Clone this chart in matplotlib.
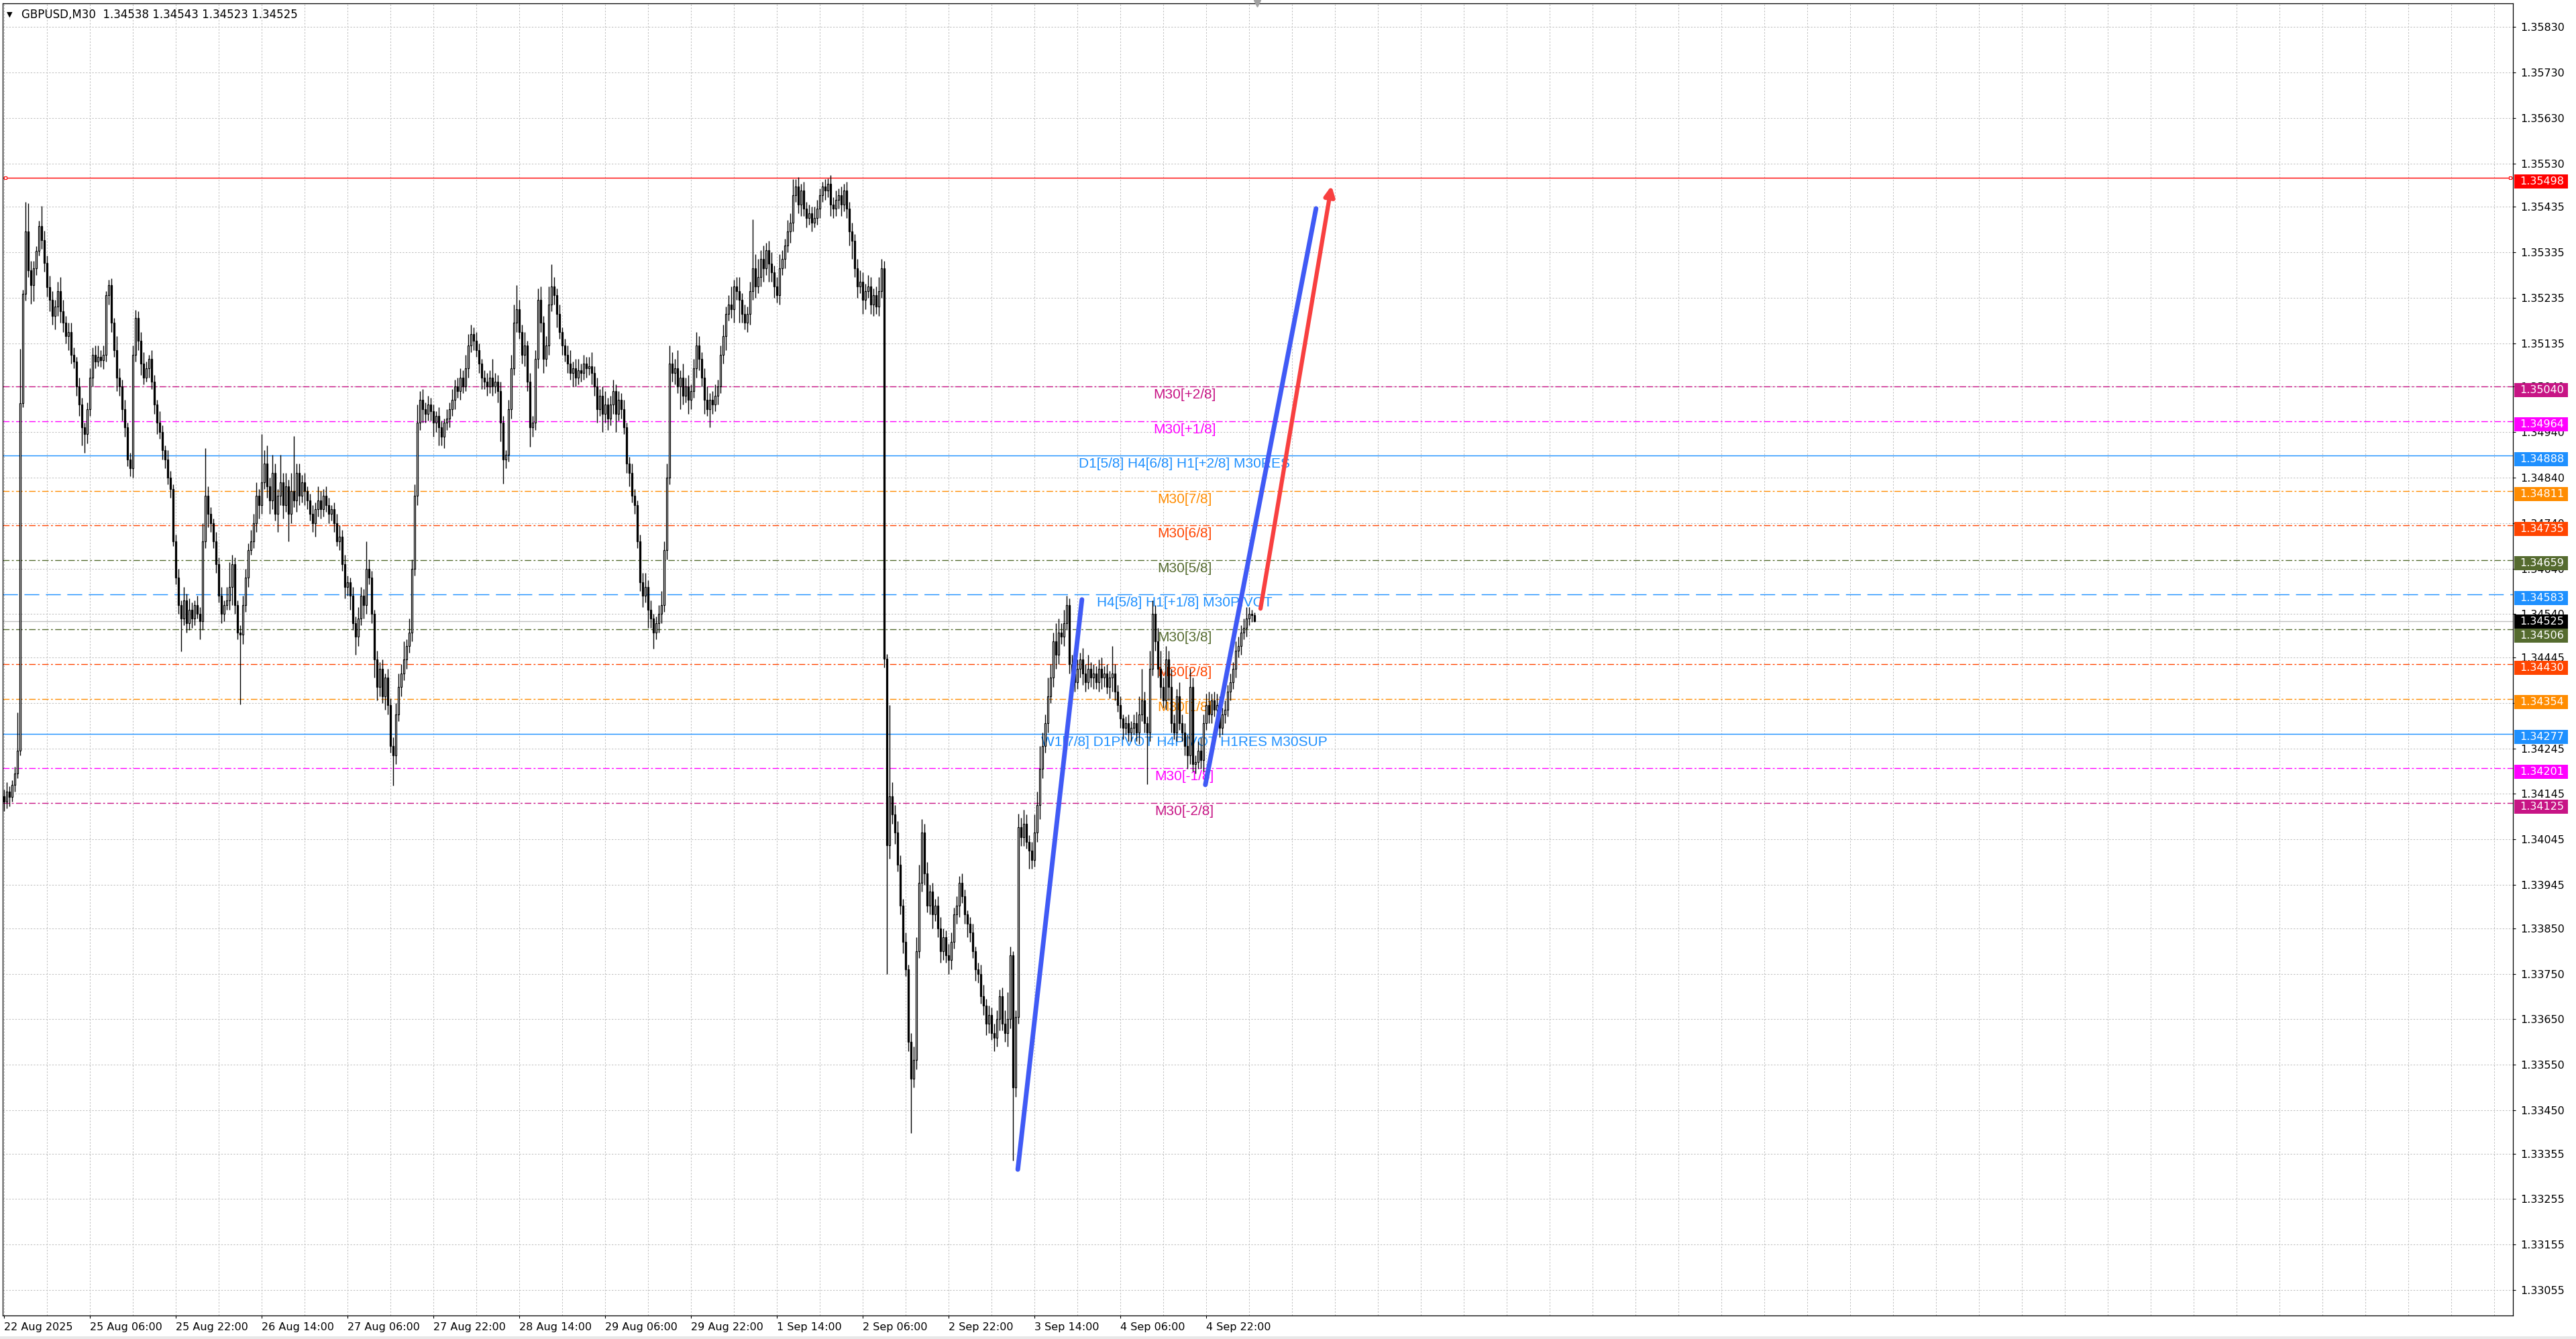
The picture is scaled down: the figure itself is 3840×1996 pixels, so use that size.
import numpy as np
import matplotlib
matplotlib.use("Agg")
import matplotlib.pyplot as plt
from matplotlib.patches import Rectangle
from matplotlib.transforms import blended_transform_factory

# GBPUSD M30 candles, prices in 1e-5 units above 1.30000 (open = previous close)
first_open = 4140
close_u = [
    4128, 4150, 4138, 4165, 4190,  4240, 5004, 5244, 5380, 5295,
    5262, 5300, 5338, 5392, 5362,  5312, 5258, 5230, 5195, 5215,
    5250, 5205, 5180, 5150, 5160,  5110, 5095, 5040, 5000, 4950,
    4935, 4990, 5060, 5110, 5095,  5105, 5098, 5110, 5240, 5262,
    5180, 5120, 5060, 5040, 4990,  4950, 4880, 4860, 5110, 5190,
    5140, 5090, 5060, 5080, 5100,  5050, 5000, 4960, 4940, 4900,
    4880, 4840, 4815, 4700, 4620,  4560, 4530, 4570, 4520, 4550,
    4530, 4560, 4540, 4525, 4700,  4800, 4760, 4740, 4700, 4650,
    4580, 4540, 4560, 4570, 4600,  4650, 4560, 4500, 4495, 4560,
    4620, 4680, 4700, 4740, 4800,  4780, 4830, 4870, 4820, 4790,
    4850, 4760, 4800, 4830, 4780,  4820, 4760, 4810, 4790, 4850,
    4800, 4830, 4810, 4790, 4760,  4740, 4770, 4790, 4770, 4800,
    4780, 4760, 4770, 4740, 4700,  4710, 4650, 4600, 4610, 4580,
    4520, 4490, 4530, 4580, 4560,  4640, 4620, 4540, 4440, 4380,
    4420, 4360, 4400, 4340, 4250,  4230, 4320, 4380, 4410, 4440,
    4470, 4500, 4640, 4800, 4960,  5010, 4990, 4980, 5000, 4985,
    4960, 4975, 4950, 4930, 4960,  4970, 4990, 5010, 5040, 5030,
    5060, 5040, 5080, 5130, 5155,  5140, 5120, 5090, 5060, 5050,
    5040, 5060, 5040, 5050, 5030,  4960, 4880, 4890, 4990, 5080,
    5180, 5210, 5160, 5110, 5130,  5050, 4950, 4960, 5100, 5230,
    5180, 5100, 5130, 5220, 5260,  5240, 5200, 5160, 5130, 5110,
    5090, 5070, 5080, 5060, 5075,  5070, 5090, 5080, 5085, 5070,
    5040, 4990, 5020, 4980, 5000,  4970, 5000, 5030, 4980, 5010,
    4990, 4950, 4870, 4850, 4800,  4780, 4700, 4610, 4580, 4600,
    4550, 4530, 4500, 4520, 4540,  4560, 4680, 4840, 5090, 5070,
    5080, 5040, 5060, 5020, 5040,  5010, 5030, 5080, 5130, 5100,
    5060, 5010, 4990, 5010, 5000,  5020, 5040, 5110, 5150, 5200,
    5220, 5210, 5260, 5250, 5230,  5200, 5180, 5200, 5250, 5300,
    5260, 5280, 5320, 5300, 5340,  5310, 5290, 5260, 5240, 5300,
    5320, 5350, 5380, 5400, 5460,  5480, 5440, 5470, 5430, 5410,
    5420, 5400, 5410, 5430, 5460,  5480, 5470, 5485, 5440, 5430,
    5450, 5460, 5440, 5470, 5430,  5380, 5360, 5300, 5260, 5270,
    5230, 5250, 5260, 5220, 5240,  5215, 5250, 5300, 4442, 4032,
    4140, 4100, 4060, 3990, 3900,  3820, 3760, 3600, 3520, 3560,
    3800, 3950, 4060, 3970, 3900,  3930, 3880, 3900, 3850, 3800,
    3830, 3790, 3780, 3820, 3880,  3900, 3950, 3920, 3880, 3860,
    3840, 3800, 3760, 3750, 3700,  3680, 3640, 3660, 3620, 3610,
    3650, 3700, 3640, 3620, 3650,  3790, 3500, 3655, 4072, 4050,
    4080, 4040, 4020, 4000, 4060,  4120, 4200, 4250, 4300, 4360,
    4400, 4480, 4450, 4500, 4490,  4520, 4560, 4430, 4410, 4390,
    4420, 4440, 4410, 4390, 4420,  4400, 4410, 4390, 4420, 4400,
    4410, 4380, 4400, 4410, 4370,  4340, 4310, 4290, 4300, 4280,
    4290, 4300, 4280, 4320, 4350,  4300, 4280, 4420, 4540, 4480,
    4420, 4380, 4350, 4440, 4380,  4300, 4280, 4360, 4300, 4280,
    4250, 4230, 4380, 4210, 4215,  4240, 4220, 4300, 4340, 4320,
    4350, 4330, 4340, 4290, 4320,  4330, 4370, 4390, 4420, 4460,
    4470, 4500, 4510, 4530, 4540,  4538, 4525,
]
wick_up = [
    15, 20, 12, 10, 15, 84, 119, 9, 65, 62,
    20, 15, 10, 12, 44, 20, 15, 25, 20, 15,
    20, 30, 25, 15, 20, 20, 15, 10, 20, 15,
    10, 15, 20, 15, 20, 25, 15, 20, 10, 12,
    15, 10, 30, 20, 15, 20, 10, 15, 20, 18,
    15, 20, 25, 15, 10, 20, 15, 10, 25, 15,
    10, 20, 15, 10, 15, 20, 10, 30, 15, 25,
    15, 10, 20, 15, 40, 104, 20, 15, 10, 20,
    15, 20, 10, 30, 54, 20, 15, 10, 15, 20,
    20, 15, 25, 20, 30, 15, 105, 30, 40, 20,
    40, 20, 15, 60, 20, 30, 15, 40, 121, 20,
    20, 15, 20, 10, 15, 20, 15, 30, 20, 15,
    20, 15, 10, 15, 20, 25, 15, 20, 15, 10,
    20, 15, 25, 20, 15, 60, 20, 15, 10, 20,
    15, 20, 10, 20, 15, 20, 25, 30, 20, 40,
    15, 30, 20, 25, 40, 20, 25, 15, 20, 15,
    15, 10, 20, 15, 10, 20, 15, 25, 15, 20,
    20, 15, 30, 25, 20, 15, 20, 15, 10, 15,
    20, 15, 40, 20, 15, 20, 15, 10, 20, 30,
    40, 53, 20, 15, 30, 10, 20, 15, 20, 25,
    30, 15, 20, 40, 49, 20, 15, 20, 10, 15,
    20, 30, 15, 20, 25, 15, 20, 15, 20, 30,
    15, 20, 15, 20, 30, 15, 20, 25, 15, 20,
    15, 20, 10, 15, 20, 15, 10, 15, 20, 30,
    15, 20, 10, 15, 20, 30, 20, 30, 40, 25,
    20, 40, 15, 30, 20, 25, 15, 20, 30, 20,
    15, 20, 30, 15, 20, 25, 15, 20, 25, 15,
    20, 40, 15, 20, 30, 15, 20, 15, 20, 107,
    30, 40, 20, 30, 15, 20, 25, 15, 20, 30,
    20, 15, 25, 20, 35, 15, 20, 15, 20, 15,
    20, 15, 25, 20, 15, 10, 15, 12, 20, 15,
    20, 15, 20, 15, 20, 15, 20, 15, 20, 25,
    20, 15, 25, 20, 15, 20, 30, 20, 15, 10,
    200, 30, 20, 25, 20, 15, 20, 10, 20, 30,
    30, 40, 30, 20, 25, 15, 20, 15, 20, 25,
    20, 15, 25, 20, 15, 20, 15, 20, 15, 10,
    15, 20, 10, 15, 20, 25, 15, 20, 15, 20,
    20, 15, 20, 30, 60, 20, 10, 15, 30, 20,
    30, 20, 15, 20, 40, 30, 50, 30, 20, 40,
    30, 20, 40, 30, 20, 30, 20, 15, 20, 25,
    20, 15, 25, 20, 30, 15, 20, 15, 20, 25,
    15, 20, 15, 60, 20, 15, 20, 10, 15, 20,
    15, 20, 25, 40, 70, 20, 15, 40, 30, 20,
    30, 40, 20, 30, 20, 40, 20, 15, 30, 20,
    20, 25, 40, 20, 15, 20, 30, 20, 25, 30,
    15, 20, 25, 20, 15, 20, 15, 20, 15, 20,
    20, 15, 20, 25, 15, 10, 5,
]
wick_dn = [
    20, 15, 20, 10, 15, 10, 10, 9, 15, 15,
    40, 35, 15, 10, 20, 20, 20, 25, 20, 30,
    20, 25, 20, 15, 30, 20, 15, 20, 25, 40,
    40, 20, 15, 20, 15, 10, 15, 20, 15, 20,
    20, 15, 30, 20, 25, 20, 15, 18, 20, 15,
    20, 25, 15, 10, 20, 15, 20, 25, 15, 20,
    20, 15, 20, 10, 15, 20, 72, 15, 20, 15,
    20, 15, 10, 40, 20, 15, 30, 20, 15, 20,
    15, 20, 15, 10, 20, 40, 20, 15, 153, 20,
    15, 20, 10, 15, 20, 30, 20, 15, 25, 30,
    20, 15, 40, 20, 30, 15, 60, 20, 15, 25,
    20, 15, 30, 20, 15, 20, 30, 15, 20, 15,
    15, 20, 15, 20, 10, 20, 15, 25, 20, 30,
    15, 40, 20, 15, 30, 20, 15, 20, 40, 30,
    20, 15, 30, 20, 15, 67, 20, 15, 20, 15,
    20, 15, 20, 15, 20, 15, 30, 20, 15, 20,
    30, 20, 40, 20, 25, 15, 20, 15, 20, 15,
    20, 15, 10, 20, 15, 20, 15, 20, 25, 15,
    20, 15, 20, 15, 25, 40, 53, 20, 15, 20,
    15, 20, 15, 20, 25, 20, 43, 20, 15, 20,
    20, 30, 15, 20, 15, 20, 30, 15, 20, 15,
    20, 15, 30, 20, 15, 20, 15, 20, 15, 25,
    20, 30, 15, 40, 20, 25, 15, 20, 40, 15,
    20, 15, 20, 30, 15, 20, 15, 20, 25, 15,
    40, 20, 36, 15, 20, 20, 15, 20, 15, 20,
    25, 15, 50, 20, 15, 30, 20, 15, 20, 25,
    20, 30, 15, 40, 20, 15, 20, 15, 20, 30,
    15, 20, 30, 20, 50, 20, 15, 20, 25, 20,
    25, 15, 20, 30, 15, 40, 20, 25, 15, 20,
    15, 20, 15, 25, 20, 15, 20, 25, 15, 20,
    15, 20, 10, 15, 20, 15, 20, 15, 25, 20,
    15, 20, 25, 15, 20, 30, 40, 20, 25, 15,
    30, 20, 15, 20, 25, 15, 20, 15, 20, 282,
    30, 20, 25, 15, 20, 25, 15, 20, 120, 20,
    20, 15, 20, 25, 15, 20, 30, 15, 20, 25,
    20, 15, 30, 20, 15, 20, 25, 15, 20, 30,
    20, 15, 25, 20, 15, 20, 25, 20, 15, 30,
    20, 25, 15, 20, 30, 20, 161, 20, 15, 20,
    20, 15, 40, 20, 15, 20, 30, 20, 15, 20,
    15, 20, 30, 20, 15, 20, 15, 20, 25, 20,
    15, 20, 25, 20, 15, 20, 25, 15, 20, 25,
    20, 15, 25, 30, 20, 15, 20, 25, 15, 20,
    20, 15, 20, 25, 15, 20, 114, 20, 15, 20,
    20, 25, 15, 20, 30, 20, 15, 20, 15, 20,
    20, 30, 20, 15, 20, 15, 20, 25, 15, 20,
    20, 15, 25, 20, 15, 20, 15, 20, 15, 20,
    15, 20, 15, 20, 15, 15, 2,
]

# time axis labels (every 32 bars)
x_label_bars = [0, 32, 64, 96, 128, 160, 192, 224, 256, 288, 320, 352, 384, 416, 448]
x_labels = ["22 Aug 2025", "25 Aug 06:00", "25 Aug 22:00", "26 Aug 14:00", "27 Aug 06:00",
            "27 Aug 22:00", "28 Aug 14:00", "29 Aug 06:00", "29 Aug 22:00", "1 Sep 14:00",
            "2 Sep 06:00", "2 Sep 22:00", "3 Sep 14:00", "4 Sep 06:00", "4 Sep 22:00"]

# price scale ticks as printed by the terminal
y_ticks = [1.35830, 1.35730, 1.35630, 1.35530, 1.35435, 1.35335, 1.35235, 1.35135,
           1.35040, 1.34940, 1.34840, 1.34740, 1.34640, 1.34540, 1.34445, 1.34345,
           1.34245, 1.34145, 1.34045, 1.33945, 1.33850, 1.33750, 1.33650, 1.33550,
           1.33450, 1.33355, 1.33255, 1.33155, 1.33055]

# Murrey-math style levels
level_price = [1.35040, 1.34964, 1.34888, 1.34811, 1.34735, 1.34659, 1.34583,
               1.34506, 1.34430, 1.34354, 1.34277, 1.34201, 1.34125]
level_name = ["M30[+2/8]", "M30[+1/8]", "D1[5/8] H4[6/8] H1[+2/8] M30RES", "M30[7/8]",
              "M30[6/8]", "M30[5/8]", "H4[5/8] H1[+1/8] M30PIVOT", "M30[3/8]", "M30[2/8]",
              "M30[1/8]", "W1[7/8] D1PIVOT H4PIVOT H1RES M30SUP", "M30[-1/8]", "M30[-2/8]"]
level_color = ["#C71585", "#FF00FF", "#1E90FF", "#FF8C00", "#FF4500", "#556B2F", "#1E90FF",
               "#556B2F", "#FF4500", "#FF8C00", "#1E90FF", "#FF00FF", "#C71585"]
level_style = ["dashdot", "dashdot", "solid", "dashdot", "dashdot", "dashdot", "dashed",
               "dashdot", "dashdot", "dashdot", "solid", "dashdot", "dashdot"]
level_label_bar = 440

red_level = 1.35498

# hand-drawn trend lines (bar index, price)
blue1_x = [377.85, 401.75]
blue1_y = [1.33320, 1.34572]
blue2_x = [447.75, 489.0]
blue2_y = [1.34165, 1.35431]
red_x = [468.3, 494.75]
red_y = [1.34552, 1.35481]

# ---------------------------------------------------------------
c = np.array(close_u) / 1e5 + 1.3
o = np.concatenate([[first_open / 1e5 + 1.3], c[:-1]])
hi = np.maximum(o, c) + np.array(wick_up) / 1e5
lo = np.minimum(o, c) - np.array(wick_dn) / 1e5
n = len(c)
x = np.arange(n)

W, H = 3840, 1996
fig = plt.figure(figsize=(W / 100, H / 100), dpi=100)
fig.patch.set_facecolor("white")
ax = fig.add_axes([4 / W, (H - 1961) / H, 3742 / W, 1956 / H])
ax.set_facecolor("white")

y0, y1 = 1.329992, 1.358816
ax.set_xlim(-0.45, 935.05)
ax.set_ylim(y0, y1)
px = (y1 - y0) / 1956  # price per pixel

# grid
for gx in np.arange(0, 936, 16):
    ax.axvline(gx, color="#C0C0C0", lw=0.75, ls=(0, (2.2, 2.2)), zorder=0)
for gy in y_ticks:
    ax.axhline(gy, color="#C0C0C0", lw=0.75, ls=(0, (2.2, 2.2)), zorder=0)

# level lines
dash_map = {"dashdot": (0, (7, 2.5, 2, 2.5)), "dashed": (0, (16, 7)), "solid": "-"}
for p, col, st in zip(level_price, level_color, level_style):
    ax.axhline(p, color=col, lw=1.0, ls=dash_map[st], zorder=1)
ax.axhline(red_level, color="#FF0000", lw=1.0, zorder=1)
ax.plot([0.5, 934.0], [red_level, red_level], ls="none", marker="s", ms=3.5,
        mfc="white", mec="#FF0000", mew=0.8, zorder=2, clip_on=False)
ax.axhline(c[-1], color="#C0C0C0", lw=1.0, zorder=1)

for p, name, col in zip(level_price, level_name, level_color):
    ax.text(level_label_bar, p - 3 * px, name, color=col, fontsize=15,
            family=["Liberation Sans", "DejaVu Sans"], ha="center", va="top", zorder=2)

# candles
ax.vlines(x, lo, hi, color="black", lw=1.0, zorder=3)
bull = c >= o
body_h = np.maximum(np.abs(c - o), 0.000012)
face = np.where(bull, "white", "black")
ax.bar(x, body_h, bottom=np.minimum(o, c), width=0.62, color=face,
       edgecolor="black", linewidth=0.9, zorder=4)

# trend lines
ax.plot(blue1_x, blue1_y, color="#405AF5", lw=5, solid_capstyle="round", zorder=6)
ax.plot(blue2_x, blue2_y, color="#405AF5", lw=5, solid_capstyle="round", zorder=6)
ax.annotate("", xy=(red_x[1], red_y[1]), xytext=(red_x[0], red_y[0]),
            arrowprops=dict(arrowstyle="-|>", color="#F84040", lw=4.5,
                            mutation_scale=22, shrinkA=0, shrinkB=0,
                            capstyle="round"), zorder=6)

# chart shift marker at last bar
ax.plot([n], [y1], marker="v", color="#A0A0A0", ms=7, clip_on=False, zorder=7)

# axes styling
for sp in ax.spines.values():
    sp.set_color("black")
    sp.set_linewidth(0.9)
ax.yaxis.tick_right()
ax.set_yticks(y_ticks)
ax.set_yticklabels(["%.5f" % v for v in y_ticks])
ax.tick_params(axis="y", direction="out", length=3, width=0.8, pad=5,
               labelsize=11.5, colors="black")
ax.set_xticks(x_label_bars)
ax.set_xticklabels(x_labels)
ax.tick_params(axis="x", direction="out", length=3, width=0.8, pad=4, labelsize=11.5)
for lab in ax.get_xticklabels():
    lab.set_ha("left")

# price boxes on the right scale (sit a few pixels below their price,
# overlapping neighbours are pushed apart)
tr = blended_transform_factory(ax.transAxes, ax.transData)
box_h = 21 * px
box_prices = [red_level] + level_price + [c[-1]]
box_colors = ["#FF0000"] + level_color + ["#000000"]
centers = [p - 5 * px for p in box_prices]
order = np.argsort(centers)[::-1]
for a, b in zip(order[:-1], order[1:]):
    gap = centers[a] - centers[b]
    if gap < box_h:
        shift = (box_h - gap) / 2
        centers[a] += shift
        centers[b] -= shift
for p, col, yc in zip(box_prices, box_colors, centers):
    ax.add_patch(Rectangle((1 + 2 / 3742, yc - box_h / 2), 80 / 3742, box_h,
                           transform=tr, facecolor=col, edgecolor="none",
                           clip_on=False, zorder=8))
    ax.text(1 + 10 / 3742, yc, "%.5f" % p, transform=tr, color="white",
            fontsize=11.5, va="center", ha="left", clip_on=False, zorder=9)

# header
ax.text(6 / 3742, 1 - 17 / 1956, "\u25bc", transform=ax.transAxes, fontsize=8,
        va="center", ha="left", color="black")
ax.text(28 / 3742, 1 - 17 / 1956,
        "GBPUSD,M30  %.5f %.5f %.5f %.5f" % (o[-1], hi[-1], lo[-1], c[-1]),
        transform=ax.transAxes, fontsize=12, va="center", ha="left", color="black")

fig.patches.append(Rectangle((0, 0), 1, 4 / H, transform=fig.transFigure,
                             facecolor="#E8E8E8", edgecolor="none"))

fig.savefig("out.png", dpi=100, facecolor="white")
